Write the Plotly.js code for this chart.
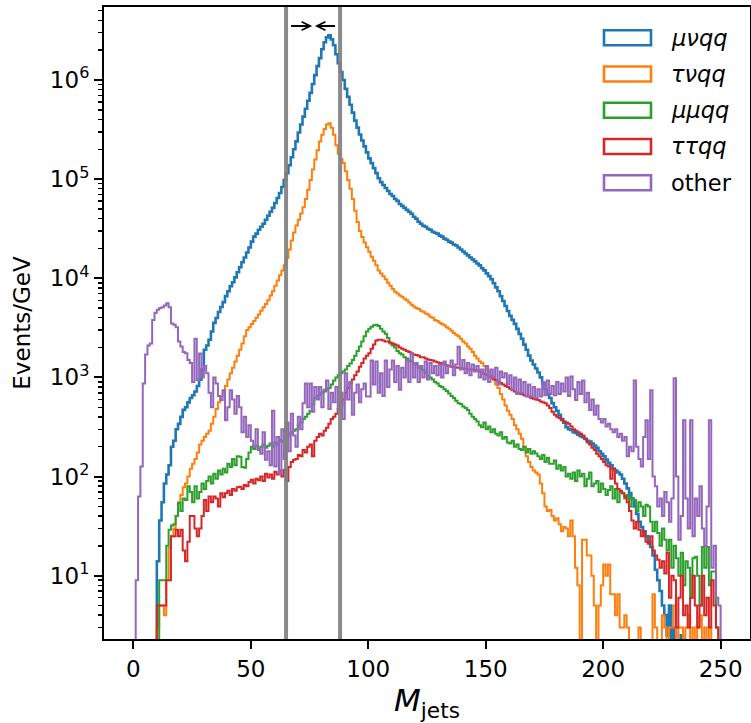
<!DOCTYPE html>
<html><head><meta charset="utf-8">
<script src="https://cdn.plot.ly/plotly-3.0.1.min.js"></script>
<style>html,body{margin:0;padding:0;background:#fff}#chart{width:751px;height:723px}</style>
</head><body><div id="chart"></div>
<script>
// ---- data (Events/GeV per 1 GeV bin, bins start at 0 GeV) ----
const BIN_LO = 0, BIN_W = 1;
const seriesNames = ['μνqq','τνqq','μμqq','ττqq','other'];
const seriesColors = ['#1f77b4','#ff7f0e','#2ca02c','#d62728','#9467bd'];

const muNuQQ = [
0,0,0,0,0,0,0,0,0,0,
14,36,55,85,105,130,200,230,300,340,
400,470,500,560,620,660,720,820,950,1200,
1900,2100,2400,2900,3550,3980,4570,5130,5750,6600,
7400,8300,9100,10200,11500,12900,14500,16200,18200,20400,
23400,26300,28200,30900,33100,35500,38900,42700,46800,51300,
57500,64600,72400,83200,97700,115000,138000,166000,200000,240000,
295000,355000,427000,513000,617000,741000,912000,1120000,1380000,1660000,
2040000,2400000,2690000,2820000,2570000,2240000,1820000,1480000,1200000,1000000,
813000,676000,562000,468000,389000,331000,282000,245000,214000,186000,
162000,145000,129000,115000,102000,93300,87100,81300,75900,70800,
67600,63100,60300,56200,53700,51300,49000,46800,44700,41700,
39800,37200,35500,33900,33100,31600,30900,29500,28800,28200,
26900,26300,25100,24500,23400,22900,21900,21400,20400,19500,
18600,17800,17000,16200,15500,14800,14100,13500,12600,12000,
11200,10500,9800,8900,8100,7400,6600,5900,5250,4680,
4170,3800,3470,3090,2750,2450,2140,1900,1660,1480,
1350,1230,1120,1000,870,760,680,620,550,500,
460,420,380,350,315,300,295,280,275,265,
255,250,240,230,225,215,205,195,180,170,
160,148,138,130,120,115,110,105,95,85,
76,68,60,50,42,35,31,28,25,22,
19.5,16,11.5,9,7,5,4,2.5,5,0,
3,0,0,2.5,0,0,0,0,0,0,
0,0,0,0,0,0,0,0,0,0];

const tauNuQQ = [
0,0,0,0,0,0,0,0,0,0,
3,5,5,4,9,19,25,30,40,55,
65,78,85,100,120,135,150,175,210,230,
250,270,290,340,400,480,560,640,720,820,
950,1100,1250,1450,1650,1900,2200,2600,3000,3200,
3450,3700,4000,4300,4700,5100,5500,6000,6700,7400,
8400,9500,10700,12000,13500,16000,19500,24000,29000,34000,
39000,45000,52000,63000,78000,98000,125000,158000,195000,240000,
280000,320000,355000,365000,330000,280000,220000,180000,160000,145000,
120000,98000,80000,63000,48000,37000,30000,26000,23000,20500,
18500,16500,15000,13500,12000,11200,10500,9800,9000,8400,
7800,7300,7000,6700,6500,6200,6000,5700,5400,5200,
5000,4900,4700,4600,4400,4300,4100,4000,3800,3700,
3550,3450,3350,3200,3100,2950,2800,2700,2600,2450,
2300,2200,2050,1950,1800,1650,1550,1450,1400,1300,
1200,1150,1050,950,850,780,680,600,520,460,
420,380,330,300,270,240,200,160,140,125,
115,110,105,85,68,50,45,46,40,36,
38,33,28,31,30,25,36,25,12,8,
0,23,23,16,16,10,5,0,5,8,
13,10,13,6.5,6.5,4,6.5,3,3,4,
3,0,0,0,0,3,0,0,0,0,
0,6.5,3,0,0,4,3,0,3,3,
5,0,3,3,0,3,4,0,3,0,
3,4,0,3,0,3,0,0,0,0];

const muMuQQ = [
0,0,0,0,0,0,0,0,0,0,
0,9,9,9,20,29,32,33,40,54,
45,60,58,80,70,55,80,60,70,85,
75,90,100,85,107,95,115,105,120,110,
135,125,150,130,160,158,125,123,150,175,
200,190,205,185,200,210,195,205,215,200,
220,210,235,225,230,250,270,280,290,300,
330,350,380,400,430,460,540,620,650,670,
700,720,750,780,850,930,1000,1050,1100,1150,
1200,1300,1380,1500,1650,1850,2050,2300,2600,2900,
3100,3250,3350,3400,3300,3100,2900,2750,2500,2200,
2100,2000,1850,1750,1700,1600,1550,1480,1450,1380,
1350,1250,1230,1180,1100,1050,1000,950,900,870,
820,800,760,730,690,650,620,580,550,540,
510,490,470,430,400,380,360,330,315,350,
300,320,280,300,270,260,280,240,250,220,
215,230,200,210,190,185,200,175,190,170,
180,171,160,150,165,140,155,135,135,145,
120,130,115,125,100,107,95,110,90,115,
100,107,80,95,110,80,85,90,70,85,
75,65,73,80,60,75,55,70,68,60,
65,50,60,58,45,55,50,40,52,50,
35,28,35,27,20,30,23,18,23,12,
20,15,10,17,8,14,12,6,15,15.5,
10,5,19.5,12,19.5,8,11,11,3,0];

const tauTauQQ = [
0,0,0,0,0,0,0,0,0,0,
5,5,5,5,9,9,25,25,29,25,
29,18,14,22,40,40,30,25,30,40,
58,45,63,55,63,60,50,68,62,68,
72,65,75,72,78,79,75,82,80,88,
93,85,95,92,100,90,107,98,105,95,
112,105,115,100,117,90,125,140,148,150,
165,160,185,175,200,210,160,230,250,270,
260,290,310,340,380,400,430,480,520,600,
700,780,870,950,1050,1150,1280,1400,1550,1650,
1750,1950,2150,2350,2400,2400,2350,2300,2300,2250,
2200,2150,2100,2000,1950,1900,1850,1800,1750,1700,
1680,1650,1600,1600,1550,1520,1500,1480,1450,1420,
1400,1380,1350,1330,1300,1280,1270,1260,1250,1240,
1230,1220,1200,1200,1200,1190,1180,1150,1120,1080,
1050,1020,1000,960,940,900,880,850,820,800,
770,740,720,700,690,680,660,650,640,620,
610,600,590,570,560,550,520,490,450,420,
400,390,370,360,350,340,320,300,290,280,
270,260,240,220,210,195,185,170,160,150,
140,130,126,95,120,85,75,72,68,63,
55,45,36,30,35,29,25,28,22,21,
25,18,16,14.5,12,14,10.5,17,6,10,
9,3,6,10,4,5,3,6,10,5,
3,5,10,4,6,3,9,5,3,0];

const other = [
0,9,63,126,870,1700,2100,2200,3800,4500,
4800,5000,5100,5300,5600,5100,3500,3400,3200,2300,
2050,1800,1750,1500,1400,900,2450,940,1740,1000,
1300,1100,700,500,1000,870,650,590,740,370,
500,740,600,430,650,500,280,400,250,330,
230,200,300,190,170,280,148,180,130,460,
126,250,107,300,150,350,180,430,260,200,
400,300,550,870,500,870,450,800,600,800,
500,750,930,480,700,560,800,450,700,380,
1100,600,900,420,700,850,560,760,870,640,
640,1480,850,1450,700,1100,650,1480,800,1200,
1480,900,1300,750,1250,1000,1500,900,1740,1000,
1400,900,1300,1000,1450,950,1400,1100,1300,1050,
1350,1000,1450,1100,1300,1480,1050,1350,2040,1200,
1500,1100,1400,1050,1350,1150,1300,1000,1200,950,
1300,900,1200,1000,1250,850,1150,1000,1100,850,
1050,750,1000,680,950,700,900,640,850,640,
800,620,760,640,900,660,930,680,820,660,
900,680,870,720,1000,650,1020,760,590,900,
680,930,560,700,470,600,420,520,380,350,
380,320,340,300,280,300,250,270,230,250,
160,200,180,930,200,150,126,250,370,150,
740,100,80,50,60,40,70,55,35,60,
980,100,23,40,370,60,30,370,25,60,
40,80,30,20,50,370,12,20,6,5];

const seriesValues = [muNuQQ, tauNuQQ, muMuQQ, tauTauQQ, other];

// mass-window cut lines and the arrows pointing into the window
const cutLines = [65, 88];
const arrowTails = [66.5, 86.5];
const arrowHeads = [76.1, 77.3];

const xTickVals = [0, 50, 100, 150, 200, 250];
const yTickVals = [1e1, 1e2, 1e3, 1e4, 1e5, 1e6];
const yTickText = ['10<sup>1</sup>','10<sup>2</sup>','10<sup>3</sup>','10<sup>4</sup>','10<sup>5</sup>','10<sup>6</sup>'];

// ---- layout helpers (pixel geometry of the plot box) ----
const W = 751, H = 723;
const M = {l:104, r:1, t:7, b:84};
const plotW = W - M.l - M.r, plotH = H - M.t - M.b;
const pxX = px => (px - M.l) / plotW;
const pxY = py => (H - M.b - py) / plotH;
const FLOOR = 1e-3;

function stepTrace(vals, color, width) {
  const xs = [BIN_LO], ys = [FLOOR];
  vals.forEach((v, i) => { xs.push(BIN_LO + i * BIN_W); ys.push(v > 0 ? v : FLOOR); });
  const end = BIN_LO + vals.length * BIN_W;
  const last = vals[vals.length - 1];
  xs.push(end); ys.push(last > 0 ? last : FLOOR);
  xs.push(end); ys.push(FLOOR);
  return {type:'scatter', mode:'lines', x:xs, y:ys, line:{color:color, width:width, shape:'hv'},
          showlegend:false, hoverinfo:'skip'};
}

const traces = seriesValues.map((vals, k) => stepTrace(vals, seriesColors[k], k === 0 ? 2.6 : 2));

const minorVals = [];
for (let d = 0; d <= 6; d++) for (let m = 2; m <= 9; m++) minorVals.push(m * Math.pow(10, d));

const shapes = [];
const annotations = [];
cutLines.forEach(c => shapes.push({type:'line', xref:'x', yref:'paper', x0:c, x1:c, y0:0, y1:1,
  line:{color:'rgba(128,128,128,0.92)', width:4}, layer:'above'}));
arrowTails.forEach((t, i) => annotations.push({x:arrowHeads[i], y:pxY(26), xref:'x', yref:'paper',
  ax:t, ay:0, axref:'x', ayref:'pixel', text:'', showarrow:true, arrowhead:5, arrowsize:0.85,
  arrowwidth:2, arrowcolor:'#000'}));

// legend drawn as outlined patches like matplotlib
const legRow0 = 37.7, legStep = 36.25;
seriesNames.forEach((n, k) => {
  const cy = legRow0 + k * legStep;
  shapes.push({type:'rect', xref:'paper', yref:'paper', x0:pxX(604), x1:pxX(651),
    y0:pxY(cy + 7.5), y1:pxY(cy - 7.5), line:{color:seriesColors[k], width:2.6}, fillcolor:'rgba(0,0,0,0)'});
  annotations.push({xref:'paper', yref:'paper', x:pxX(669), y:pxY(cy), xanchor:'left', yanchor:'middle',
    text: n === 'other' ? n : '<i>' + n + '</i>', showarrow:false, font:{size:22.5, color:'#000'}});
});

const axisCommon = {showline:true, linewidth:2, linecolor:'#000', mirror:true, showgrid:false, zeroline:false,
  ticks:'outside', ticklen:8, tickwidth:2, tickcolor:'#000', automargin:false,
  tickfont:{size:23, color:'#000'}};

const layout = {
  width:W, height:H, margin:{l:M.l, r:M.r, t:M.t, b:M.b, pad:0},
  paper_bgcolor:'#fff', plot_bgcolor:'#fff',
  font:{family:'DejaVu Sans, sans-serif', size:23, color:'#000'},
  showlegend:false, hovermode:false,
  xaxis:Object.assign({}, axisCommon, {range:[-12.5, 262.5], tickmode:'array', tickvals:xTickVals,
    ticktext:xTickVals.map(String),
    title:{text:'<i>M</i><sub>jets</sub>', font:{size:31, color:'#000'}, standoff:9}}),
  yaxis:Object.assign({}, axisCommon, {type:'log', range:[0.3615, 6.736], tickmode:'array',
    tickvals:yTickVals, ticktext:yTickText,
    minor:{tickmode:'array', tickvals:minorVals, ticks:'outside', ticklen:4.5, tickwidth:1.5, tickcolor:'#000', showgrid:false},
    title:{text:'Events/GeV', font:{size:23, color:'#000'}, standoff:13}}),
  shapes:shapes, annotations:annotations
};

Plotly.newPlot('chart', traces, layout, {staticPlot:true, displayModeBar:false});
</script>
</body></html>
